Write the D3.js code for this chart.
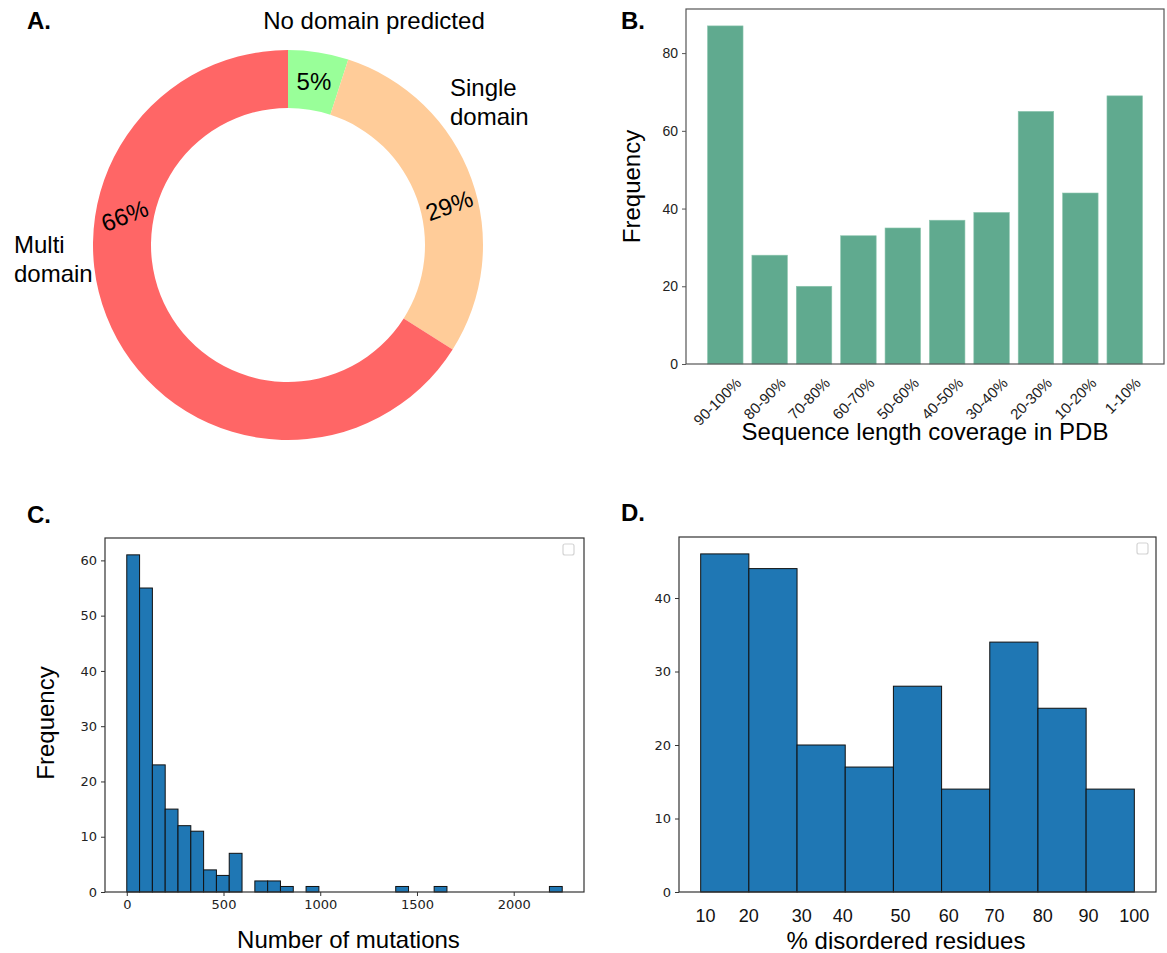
<!DOCTYPE html>
<html>
<head>
<meta charset="utf-8">
<script src="https://cdn.jsdelivr.net/npm/d3@7"></script>
<style>
  body { margin: 0; background: #fff; }
  text { font-family: "Liberation Sans", Arial, sans-serif; fill: #000; }
  .tick text { font-family: "DejaVu Sans", sans-serif; fill: #222; }
</style>
</head>
<body>
<svg id="fig" width="1167" height="953"></svg>
<script>
// A. 도메인 예측 비율
var domainLabels = ["No domain predicted", "Single domain", "Multi domain"];
var domainPct = [5, 29, 66];
var domainColors = ["#99ff99", "#ffcc99", "#ff6666"];

// B. PDB 서열 길이 커버리지
var coverageCats = ["90-100%", "80-90%", "70-80%", "60-70%", "50-60%", "40-50%", "30-40%", "20-30%", "10-20%", "1-10%"];
var coverageFreq = [87, 28, 20, 33, 35, 37, 39, 65, 44, 69];
var coverageTicks = [0, 20, 40, 60, 80];

// C. 돌연변이 수 히스토그램
var mutBinStart = 0;
var mutBinWidth = 66.2;
var mutCounts = [61, 55, 23, 15, 12, 11, 4, 3, 7, 0, 2, 2, 1, 0, 1, 0, 0, 0, 0, 0, 0, 1, 0, 0, 1, 0, 0, 0, 0, 0, 0, 0, 0, 1];
var mutXTicks = [0, 500, 1000, 1500, 2000];
var mutYTicks = [0, 10, 20, 30, 40, 50, 60];

// D. 무질서 잔기 비율 히스토그램
var disEdges = [10, 20, 30, 40, 50, 60, 70, 80, 90, 100];
var disCounts = [46, 44, 20, 17, 28, 14, 34, 25, 14];
var disTickLabels = ["10", "20", "30", "40", "50", "60", "70", "80", "90", "100"];
var disTickPos = [11, 20, 31, 39.5, 51.5, 61.5, 71, 81, 90.5, 100];
var disYTicks = [0, 10, 20, 30, 40];

var svg = d3.select("#fig");

function panelLetter(t, x, y) {
  svg.append("text").attr("x", x).attr("y", y)
     .attr("font-size", 24).attr("font-weight", "bold").text(t);
}

function styleAxis(g, col) {
  g.select(".domain").remove();
  g.selectAll(".tick line").attr("stroke", col);
  g.selectAll(".tick text").attr("font-size", 13);
}

function frame(x0, y0, x1, y1, col) {
  svg.append("rect").attr("x", x0).attr("y", y0)
     .attr("width", x1 - x0).attr("height", y1 - y0)
     .attr("fill", "none").attr("stroke", col).attr("stroke-width", 1.2);
}

function emptyLegend(x, y) {
  svg.append("rect").attr("x", x).attr("y", y).attr("width", 11).attr("height", 11)
     .attr("rx", 2).attr("fill", "none").attr("stroke", "#d4d4d4").attr("stroke-width", 1.2);
}

// ---------- A ----------
function donut() {
  panelLetter("A.", 27, 29);
  var cx = 288, cy = 245, R = 195, r0 = 137;
  var pie = d3.pie().sort(null).value(function(d){ return d; });
  var arc = d3.arc().innerRadius(r0).outerRadius(R);
  var g = svg.append("g").attr("transform", "translate(" + cx + "," + cy + ")");
  var slices = pie(domainPct);

  g.selectAll("path").data(slices).enter().append("path")
   .attr("d", arc)
   .attr("fill", function(d, i){ return domainColors[i]; });

  // 퍼센트 라벨 (각도 보정, 회전)
  var shift = [0, 6, 39], rot = [0, -20, -21], lr = 166;
  g.selectAll("text.pct").data(slices).enter().append("text")
   .attr("class", "pct")
   .attr("text-anchor", "middle")
   .attr("dominant-baseline", "central")
   .attr("font-size", 24)
   .attr("transform", function(d, i){
     var a = (d.startAngle + d.endAngle) / 2 + shift[i] * Math.PI / 180;
     return "translate(" + (lr * Math.sin(a)) + "," + (-lr * Math.cos(a)) + ") rotate(" + rot[i] + ")";
   })
   .text(function(d){ return d.data + "%"; });

  // 바깥 라벨
  g.append("text").attr("x", 86).attr("y", -216).attr("text-anchor", "middle")
   .attr("font-size", 24).text(domainLabels[0]);
  var s = domainLabels[1].split(" ");
  g.append("text").attr("x", 162).attr("y", -149).attr("font-size", 24).text(s[0]);
  g.append("text").attr("x", 162).attr("y", -120).attr("font-size", 24).text(s[1]);
  var m = domainLabels[2].split(" ");
  g.append("text").attr("x", -274).attr("y", 8).attr("font-size", 24).text(m[0]);
  g.append("text").attr("x", -274).attr("y", 37).attr("font-size", 24).text(m[1]);
}

// ---------- B ----------
function coverage() {
  panelLetter("B.", 621, 29);
  var x0 = 686, x1 = 1164, y0 = 9, y1 = 364;
  var x = d3.scaleBand().domain(coverageCats).range([x0, x1])
            .paddingInner(0.2).paddingOuter(0.485);
  var y = d3.scaleLinear().domain([0, d3.max(coverageFreq) * 1.05]).range([y1, y0]);

  svg.append("g").selectAll("rect").data(coverageFreq).enter().append("rect")
     .attr("x", function(d, i){ return x(coverageCats[i]); })
     .attr("y", function(d){ return y(d); })
     .attr("width", x.bandwidth())
     .attr("height", function(d){ return y1 - y(d); })
     .attr("fill", "#60aa8f")
     .attr("stroke", "#8cc5ae").attr("stroke-width", 0.6);

  var ya = svg.append("g").attr("transform", "translate(" + x0 + ",0)")
              .call(d3.axisLeft(y).tickValues(coverageTicks).tickSize(4).tickPadding(4));
  styleAxis(ya, "#555");
  ya.selectAll(".tick text").style("font-family", "Liberation Sans, Arial, sans-serif").attr("font-size", 14);

  svg.append("g").selectAll("text").data(coverageCats).enter().append("text")
     .attr("text-anchor", "end")
     .attr("font-size", 15)
     .style("fill", "#222")
     .attr("transform", function(d){
       return "translate(" + (x(d) + x.bandwidth() / 2 + 17) + ",384) rotate(-45)";
     })
     .text(function(d){ return d; });

  frame(x0, y0, x1, y1, "#555");

  svg.append("text").attr("x", (x0 + x1) / 2).attr("y", 440).attr("text-anchor", "middle")
     .attr("font-size", 24).text("Sequence length coverage in PDB");
  svg.append("text").attr("transform", "translate(640," + ((y0 + y1) / 2) + ") rotate(-90)")
     .attr("text-anchor", "middle").attr("font-size", 24).text("Frequency");
}

// ---------- C ----------
function mutations() {
  panelLetter("C.", 27, 523);
  var x0 = 105, x1 = 584, y0 = 538, y1 = 892;
  var bins = mutCounts.map(function(c, i){
    return { a: mutBinStart + i * mutBinWidth, b: mutBinStart + (i + 1) * mutBinWidth, c: c };
  });
  var lo = mutBinStart, hi = bins[bins.length - 1].b, pad = (hi - lo) * 0.05;
  var x = d3.scaleLinear().domain([lo - pad, hi + pad]).range([x0, x1]);
  var y = d3.scaleLinear().domain([0, d3.max(mutCounts) * 1.05]).range([y1, y0]);

  svg.append("g").selectAll("rect").data(bins.filter(function(d){ return d.c > 0; }))
     .enter().append("rect")
     .attr("x", function(d){ return x(d.a); })
     .attr("y", function(d){ return y(d.c); })
     .attr("width", function(d){ return x(d.b) - x(d.a); })
     .attr("height", function(d){ return y1 - y(d.c); })
     .attr("fill", "#1f77b4").attr("stroke", "#111").attr("stroke-width", 1);

  var ya = svg.append("g").attr("transform", "translate(" + x0 + ",0)")
              .call(d3.axisLeft(y).tickValues(mutYTicks).tickSize(4).tickPadding(4));
  styleAxis(ya, "#333");
  var xa = svg.append("g").attr("transform", "translate(0," + y1 + ")")
              .call(d3.axisBottom(x).tickValues(mutXTicks).tickFormat(d3.format("d"))
                      .tickSize(4).tickPadding(4));
  styleAxis(xa, "#333");

  frame(x0, y0, x1, y1, "#333");
  emptyLegend(563, 544);

  svg.append("text").attr("x", (x0 + x1) / 2 + 4).attr("y", 948).attr("text-anchor", "middle")
     .attr("font-size", 24).text("Number of mutations");
  svg.append("text").attr("transform", "translate(54," + ((y0 + y1) / 2 + 8) + ") rotate(-90)")
     .attr("text-anchor", "middle").attr("font-size", 24).text("Frequency");
}

// ---------- D ----------
function disorder() {
  panelLetter("D.", 621, 521);
  var x0 = 679, x1 = 1156, y0 = 537, y1 = 892;
  var lo = disEdges[0], hi = disEdges[disEdges.length - 1], pad = (hi - lo) * 0.05;
  var x = d3.scaleLinear().domain([lo - pad, hi + pad]).range([x0, x1]);
  var y = d3.scaleLinear().domain([0, d3.max(disCounts) * 1.05]).range([y1, y0]);

  svg.append("g").selectAll("rect").data(disCounts).enter().append("rect")
     .attr("x", function(d, i){ return x(disEdges[i]); })
     .attr("y", function(d){ return y(d); })
     .attr("width", function(d, i){ return x(disEdges[i + 1]) - x(disEdges[i]); })
     .attr("height", function(d){ return y1 - y(d); })
     .attr("fill", "#1f77b4").attr("stroke", "#111").attr("stroke-width", 1);

  var ya = svg.append("g").attr("transform", "translate(" + x0 + ",0)")
              .call(d3.axisLeft(y).tickValues(disYTicks).tickSize(4).tickPadding(4));
  styleAxis(ya, "#333");

  svg.append("g").selectAll("text").data(disTickLabels).enter().append("text")
     .attr("x", function(d, i){ return x(disTickPos[i]); })
     .attr("y", 922)
     .attr("text-anchor", "middle")
     .attr("font-size", 18)
     .style("fill", "#111")
     .text(function(d){ return d; });

  frame(x0, y0, x1, y1, "#333");
  emptyLegend(1137, 543);

  svg.append("text").attr("x", 906).attr("y", 949).attr("text-anchor", "middle")
     .attr("font-size", 24).text("% disordered residues");
}

donut();
coverage();
mutations();
disorder();
</script>
</body>
</html>
